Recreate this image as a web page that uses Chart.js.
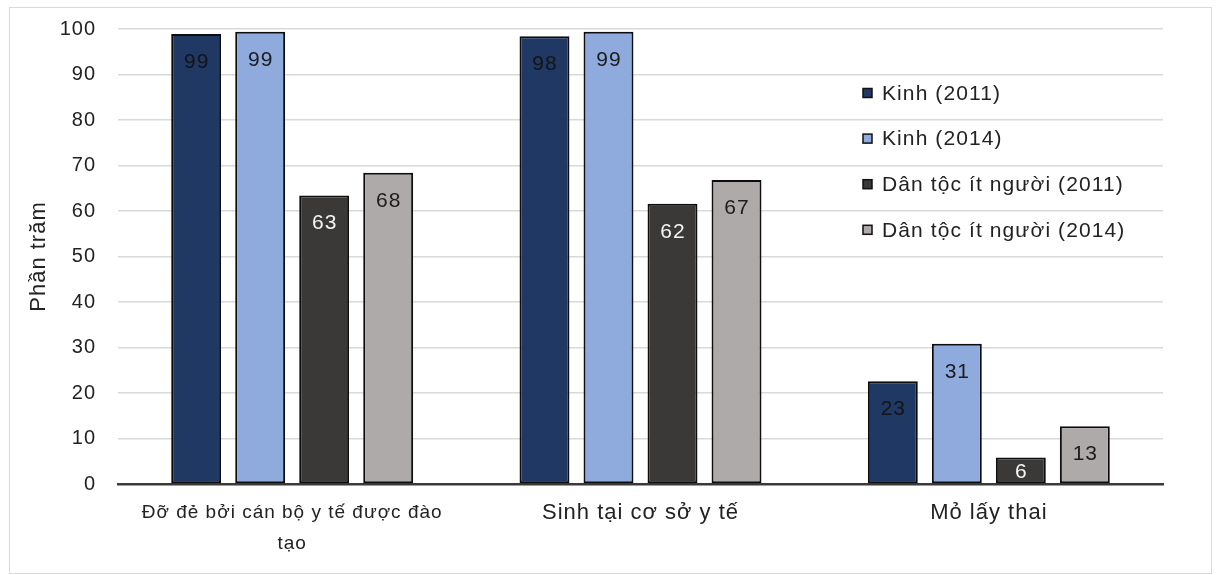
<!DOCTYPE html>
<html lang="vi">
<head>
<meta charset="utf-8">
<script src="https://cdn.jsdelivr.net/npm/chart.js@4.4.1/dist/chart.umd.min.js"></script>
<style>
html, body { margin: 0; padding: 0; background: #fff; }
#frame { position: absolute; left: 9px; top: 7px; width: 1203px; height: 567px;
         border: 1px solid #dadada; box-sizing: border-box; }
#frame canvas { display: block; }
</style>
</head>
<body>
<div id="frame"><canvas id="chart"></canvas></div>
<script>
// Categories (first one wraps onto two lines)
const categories = [["Đỡ đẻ bởi cán bộ y tế được đào", "tạo"], "Sinh tại cơ sở y tế", "Mỏ lấy thai"];
const seriesNames = ["Kinh (2011)", "Kinh (2014)", "Dân tộc ít người (2011)", "Dân tộc ít người (2014)"];

// Percentages per category
const kinh2011 = [98.9, 98.4, 22.6];
const kinh2014 = [99.4, 99.4, 30.8];
const dtts2011 = [63.4, 61.6, 5.8];
const dtts2014 = [68.4, 66.8, 12.7];

const yTicks = [0, 10, 20, 30, 40, 50, 60, 70, 80, 90, 100];
const yTitle = "Phần trăm";

const fills = ["#203864", "#8faadc", "#3b3838", "#aeaaaa"];
const labelInk = ["#141414", "#1c1c1c", "#f4f4f4", "#1c1c1c"];
const FONT = "'Liberation Sans', Arial, sans-serif";
const TRACKING = "1px";

const seriesValues = [kinh2011, kinh2014, dtts2011, dtts2014];

// Slightly wider letter spacing for all chart text
const tracking = {
  id: "tracking",
  beforeUpdate(chart) { chart.ctx.letterSpacing = TRACKING; },
  beforeDraw(chart) { chart.ctx.letterSpacing = TRACKING; }
};

// Value labels placed just inside the top of each bar
const barLabels = {
  id: "barLabels",
  afterDatasetsDraw(chart) {
    const ctx = chart.ctx;
    ctx.save();
    ctx.letterSpacing = TRACKING;
    ctx.font = "21px " + FONT;
    ctx.textAlign = "center";
    ctx.textBaseline = "middle";
    chart.data.datasets.forEach((ds, i) => {
      const meta = chart.getDatasetMeta(i);
      meta.data.forEach((bar, j) => {
        const v = ds.data[j];
        const h = bar.base - bar.y;
        const cy = bar.y + Math.min(28, h / 2 + 2);
        ctx.fillStyle = labelInk[i];
        ctx.fillText(String(Math.round(v)), bar.x + 0.5, cy);
      });
    });
    ctx.restore();
  }
};

// Legend drawn inside the plot area, right side
const innerLegend = {
  id: "innerLegend",
  afterDatasetsDraw(chart) {
    const ctx = chart.ctx;
    const area = chart.chartArea;
    const x0 = area.left + 745;
    const y0 = area.top + 64;
    const step = 45.6;
    ctx.save();
    ctx.letterSpacing = "1.1px";
    ctx.font = "21px " + FONT;
    ctx.textAlign = "left";
    ctx.textBaseline = "middle";
    chart.data.datasets.forEach((ds, i) => {
      const cy = y0 + i * step;
      ctx.fillStyle = ds.backgroundColor;
      ctx.fillRect(x0, cy - 4.5, 9, 9);
      ctx.lineWidth = 1.5;
      ctx.strokeStyle = "#111";
      ctx.strokeRect(x0, cy - 4.5, 9, 9);
      ctx.fillStyle = "#222";
      ctx.fillText(ds.label, x0 + 19, cy + 1);
    });
    ctx.restore();
  }
};

new Chart(document.getElementById("chart"), {
  type: "bar",
  data: {
    labels: categories,
    datasets: seriesNames.map((name, i) => ({
      label: name,
      data: seriesValues[i],
      backgroundColor: fills[i],
      borderColor: "#0d0d0d",
      borderWidth: 2,
      borderSkipped: false,
      categoryPercentage: 0.735,
      barPercentage: 0.78
    }))
  },
  options: {
    responsive: true,
    maintainAspectRatio: false,
    animation: false,
    devicePixelRatio: 1,
    layout: { padding: { left: 0, right: 48, top: 21, bottom: 0 } },
    plugins: { legend: { display: false }, tooltip: { enabled: false } },
    scales: {
      x: {
        grid: { display: false, drawTicks: false },
        border: { display: true, color: "#3a3a3a", width: 2.5 },
        ticks: {
          color: "#222",
          padding: 13,
          maxRotation: 0,
          autoSkip: false,
          font: c => ({ family: FONT, size: c.index === 0 ? 19 : 22, lineHeight: "31px" })
        },
        afterFit(scale) { scale.height = 89; }
      },
      y: {
        min: 0,
        max: 100,
        afterBuildTicks(scale) { scale.ticks = yTicks.map(v => ({ value: v })); },
        grid: {
          drawTicks: false,
          color: ctx => (ctx.tick && ctx.tick.value === 0) ? "rgba(0,0,0,0)" : "#d9d9d9",
          lineWidth: 1.5
        },
        border: { display: false },
        ticks: {
          color: "#222",
          padding: 22,
          font: { family: FONT, size: 20 }
        },
        title: {
          display: true,
          text: yTitle,
          color: "#222",
          padding: { top: 16, bottom: 0 },
          font: { family: FONT, size: 22 }
        },
        afterFit(scale) {
          scale.width = 108;
          scale.paddingTop = 0;
          scale.paddingBottom = 0;
        }
      }
    }
  },
  plugins: [tracking, barLabels, innerLegend]
});
</script>
</body>
</html>
